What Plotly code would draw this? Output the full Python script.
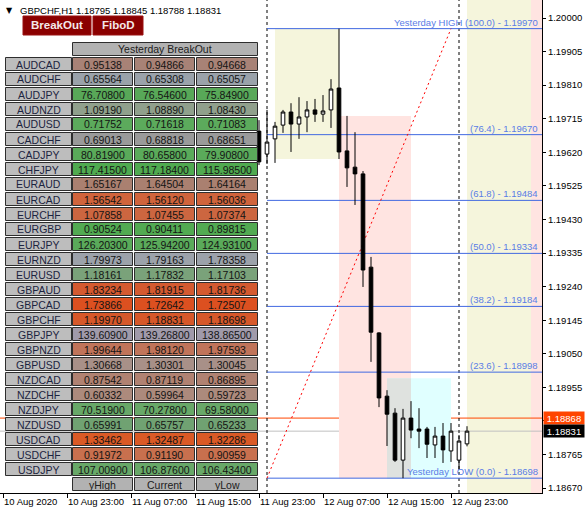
import plotly.graph_objects as go
import pandas as pd

# ---------------- data ----------------
symbol_title = "GBPCHF,H1 1.18795 1.18845 1.18788 1.18831"

candle_start = "2020-08-11 23:00"
open_ = [1.19680, 1.19615, 1.19658, 1.19697, 1.19734, 1.19700, 1.19720, 1.19740, 1.19728,
         1.19740, 1.19802, 1.19624, 1.19578, 1.19559, 1.19295, 1.19109, 1.18930, 1.18882,
         1.18749, 1.18868, 1.18837, 1.18837, 1.18792, 1.18817, 1.18775, 1.18749, 1.18795]
high = [1.19711, 1.19740, 1.19706, 1.19740, 1.19759, 1.19776, 1.19765, 1.19771, 1.19782,
        1.19827, 1.19970, 1.19723, 1.19677, 1.19567, 1.19324, 1.19111, 1.18947, 1.18896,
        1.18894, 1.18916, 1.18896, 1.18843, 1.18843, 1.18854, 1.18854, 1.18820, 1.18845]
low = [1.19584, 1.19587, 1.19590, 1.19675, 1.19621, 1.19658, 1.19677, 1.19706, 1.19706,
       1.19689, 1.19601, 1.19522, 1.19471, 1.19239, 1.19027, 1.18899, 1.18789, 1.18744,
       1.18698, 1.18811, 1.18783, 1.18755, 1.18755, 1.18741, 1.18744, 1.18721, 1.18788]
close = [1.19593, 1.19649, 1.19694, 1.19734, 1.19700, 1.19720, 1.19740, 1.19728, 1.19737,
         1.19799, 1.19621, 1.19576, 1.19559, 1.19287, 1.19111, 1.18925, 1.18879, 1.18749,
         1.18868, 1.18834, 1.18831, 1.18794, 1.18817, 1.18778, 1.18831, 1.18803, 1.18831]

fib_prices = [1.19970, 1.19670, 1.19484, 1.19334, 1.19184, 1.18998, 1.18698]
fib_labels = ["Yesterday HIGH (100.0) - 1.19970", "(76.4) - 1.19670", "(61.8) - 1.19484",
              "(50.0) - 1.19334", "(38.2) - 1.19184", "(23.6) - 1.18998",
              "Yesterday LOW (0.0) - 1.18698"]
fib_start = "2020-08-12 00:00"
yest_high_time = "2020-08-12 23:00"

separator_times = ["2020-08-12 00:00", "2020-08-13 00:00"]
marker_price = 1.18868
current_price = 1.18831

# session boxes: (t0, t1, p0, p1)
box_asia = ("2020-08-12 01:00", "2020-08-12 09:00", 1.19970, 1.19601)
box_europe = ("2020-08-12 09:00", "2020-08-12 18:00", 1.19723, 1.18698)
box_us = ("2020-08-12 15:00", "2020-08-12 23:00", 1.18981, 1.18698)
today_asia = ("2020-08-13 01:00", "2020-08-13 09:00")
today_europe = ("2020-08-13 09:00", "2020-08-13 12:00")

y_tick_vals = [1.20000, 1.19905, 1.19810, 1.19715, 1.19620, 1.19525, 1.19430, 1.19335,
               1.19240, 1.19145, 1.19050, 1.18955, 1.18860, 1.18765, 1.18670]
x_tick_times = ["2020-08-10 15:00", "2020-08-10 23:00", "2020-08-11 07:00", "2020-08-11 15:00",
                "2020-08-11 23:00", "2020-08-12 07:00", "2020-08-12 15:00", "2020-08-12 23:00"]
x_tick_text = ["10 Aug 2020", "10 Aug 23:00", "11 Aug 07:00", "11 Aug 15:00",
               "11 Aug 23:00", "12 Aug 07:00", "12 Aug 15:00", "12 Aug 23:00"]
x_range = ["2020-08-10 14:37:30", "2020-08-13 10:22:30"]
y_range = [1.18656, 1.20051]

pairs = ["AUDCAD", "AUDCHF", "AUDJPY", "AUDNZD", "AUDUSD", "CADCHF", "CADJPY", "CHFJPY",
         "EURAUD", "EURCAD", "EURCHF", "EURGBP", "EURJPY", "EURNZD", "EURUSD", "GBPAUD",
         "GBPCAD", "GBPCHF", "GBPJPY", "GBPNZD", "GBPUSD", "NZDCAD", "NZDCHF", "NZDJPY",
         "NZDUSD", "USDCAD", "USDCHF", "USDJPY"]
y_high = [0.95138, 0.65564, 76.70800, 1.09190, 0.71752, 0.69013, 80.81900, 117.41500,
          1.65167, 1.56542, 1.07858, 0.90524, 126.20300, 1.79973, 1.18161, 1.83234,
          1.73866, 1.19970, 139.60900, 1.99644, 1.30668, 0.87542, 0.60332, 70.51900,
          0.65991, 1.33462, 0.91972, 107.00900]
current = [0.94866, 0.65308, 76.54600, 1.08890, 0.71618, 0.68818, 80.65800, 117.18400,
           1.64504, 1.56120, 1.07455, 0.90411, 125.94200, 1.79163, 1.17832, 1.81915,
           1.72642, 1.18831, 139.26800, 1.98120, 1.30301, 0.87119, 0.59964, 70.27800,
           0.65757, 1.32487, 0.91190, 106.87600]
y_low = [0.94668, 0.65057, 75.84900, 1.08430, 0.71083, 0.68651, 79.90800, 115.98500,
         1.64164, 1.56036, 1.07374, 0.89815, 124.93100, 1.78358, 1.17103, 1.81736,
         1.72507, 1.18698, 138.86500, 1.97593, 1.30045, 0.86895, 0.59723, 69.58000,
         0.65233, 1.32286, 0.90959, 106.43400]
row_colors = ["#A88276", "#9AA2AA", "#58A858", "#90A08C", "#5CAA5C", "#9A9A9A", "#5AAA5A",
              "#50AA50", "#AA8070", "#D0643C", "#CC6640", "#52AA52", "#5AAA5A", "#9CA2AA",
              "#7AA27A", "#D45A30", "#DC5020", "#D6582A", "#A09AAA", "#C0745A", "#A89088",
              "#B08272", "#AC8A7C", "#68A868", "#70A272", "#DA5A26", "#C8704E", "#68A868"]
table_title = "Yesterday BreakOut"
footer_labels = ["yHigh", "Current", "yLow"]
buttons = ["BreakOut", "FiboD"]

# ---------------- figure ----------------
FONT = "Liberation Sans, Arial, sans-serif"
W, H = 542, 493          # plot area in pixels
def PX(x): return x / W
def PY(y): return 1 - y / H

times = pd.date_range(candle_start, periods=len(open_), freq="h")

fig = go.Figure()
fig.add_trace(go.Candlestick(
    x=times, open=open_, high=high, low=low, close=close,
    increasing=dict(fillcolor="white", line=dict(color="black", width=1)),
    decreasing=dict(fillcolor="black", line=dict(color="black", width=1)),
    whiskerwidth=0, showlegend=False, hoverinfo="skip"))

shapes = []
shapes.append(dict(type="rect", xref="x", yref="y", x0=box_asia[0], x1=box_asia[1],
                   y0=box_asia[2], y1=box_asia[3], fillcolor="#F5F5DC", line_width=0, layer="below"))
shapes.append(dict(type="rect", xref="x", yref="y", x0=box_europe[0], x1=box_europe[1],
                   y0=box_europe[2], y1=box_europe[3], fillcolor="#FFE4E1", line_width=0, layer="below"))
shapes.append(dict(type="rect", xref="x", yref="y", x0=box_us[0], x1=box_us[1],
                   y0=box_us[2], y1=box_us[3], fillcolor="#E0FFFF", line_width=0, layer="below"))
shapes.append(dict(type="rect", xref="x", yref="y", x0=box_us[0], x1=box_europe[1],
                   y0=box_us[2], y1=box_us[3], fillcolor="#DFE2DF", line_width=0, layer="below"))
shapes.append(dict(type="rect", xref="x", yref="paper", x0=today_asia[0], x1=today_asia[1],
                   y0=0, y1=1, fillcolor="#F5F5DC", line_width=0, layer="below"))
shapes.append(dict(type="rect", xref="x", yref="paper", x0=today_europe[0], x1=today_europe[1],
                   y0=0, y1=1, fillcolor="#FFE4E1", line_width=0, layer="below"))
shapes.append(dict(type="line", xref="paper", yref="y", x0=0, x1=1, y0=current_price, y1=current_price,
                   line=dict(color="#C0C0C0", width=1), layer="below"))
shapes.append(dict(type="line", xref="paper", yref="y", x0=0, x1=1, y0=marker_price, y1=marker_price,
                   line=dict(color="#FF4500", width=1), layer="below"))
for p in fib_prices:
    shapes.append(dict(type="line", xref="x", yref="y", x0=fib_start, x1=x_range[1], y0=p, y1=p,
                       line=dict(color="#4169E1", width=1), layer="below"))
shapes.append(dict(type="line", xref="x", yref="y", x0=fib_start, y0=fib_prices[-1],
                   x1=yest_high_time, y1=fib_prices[0],
                   line=dict(color="red", width=1, dash="2px,3px"), layer="below"))
for t in separator_times:
    shapes.append(dict(type="line", xref="x", yref="paper", x0=t, x1=t, y0=0, y1=1,
                       line=dict(color="black", width=1, dash="3px,3px"), layer="below"))

annotations = []
for p, lab in zip(fib_prices, fib_labels):
    annotations.append(dict(x=PX(540), xref="paper", y=p, yref="y", text=lab, showarrow=False,
                            xanchor="right", yanchor="bottom", yshift=-1,
                            font=dict(family=FONT, size=9.5, color="#5A7DE6")))

annotations.append(dict(x=1.002, xref="paper", y=marker_price, yref="y", text="1.18868",
                        showarrow=False, xanchor="left", yanchor="middle", bgcolor="#FF4500",
                        width=38, height=10, borderpad=1,
                        font=dict(family=FONT, size=9.5, color="white")))
annotations.append(dict(x=1.002, xref="paper", y=current_price, yref="y", text="1.18831",
                        showarrow=False, xanchor="left", yanchor="middle", bgcolor="black",
                        width=38, height=10, borderpad=1,
                        font=dict(family=FONT, size=9.5, color="white")))

annotations.append(dict(x=PX(9.5), y=PY(10), xref="paper", yref="paper", text="▼", showarrow=False,
                        xanchor="center", yanchor="middle", font=dict(family="DejaVu Sans", size=8, color="black")))
annotations.append(dict(x=PX(18), y=PY(10), xref="paper", yref="paper", text=symbol_title, showarrow=False,
                        xanchor="left", yanchor="middle", font=dict(family=FONT, size=9.5, color="black")))

btn_x = [(23, 91), (93, 143)]
for (x0, x1), lab in zip(btn_x, buttons):
    shapes.append(dict(type="rect", xref="paper", yref="paper", x0=PX(x0), x1=PX(x1),
                       y0=PY(35), y1=PY(16), fillcolor="#8B0000",
                       line=dict(color="#9A1010", width=1), layer="above"))
    annotations.append(dict(x=PX((x0 + x1) / 2), y=PY(25.5), xref="paper", yref="paper",
                            text="<b>" + lab + "</b>", showarrow=False,
                            xanchor="center", yanchor="middle",
                            font=dict(family=FONT, size=11.5, color="#F4E8E8")))

def cell(x0, x1, y0, y1, fill, text, color="#141414"):
    shapes.append(dict(type="rect", xref="paper", yref="paper", x0=PX(x0), x1=PX(x1),
                       y0=PY(y1), y1=PY(y0), fillcolor=fill,
                       line=dict(color="#2E2E2E", width=1), layer="above"))
    annotations.append(dict(x=PX((x0 + x1) / 2), y=PY((y0 + y1) / 2 + 0.5), xref="paper", yref="paper",
                            text=text, showarrow=False, xanchor="center", yanchor="middle",
                            font=dict(family=FONT, size=10.5, color=color)))

cols = [(72.5, 132.5), (134.5, 194.5), (196.5, 257.5)]
cell(72.5, 257.5, 42.5, 55.5, "#B2B2B2", table_title, "#202020")
for i, name in enumerate(pairs):
    top = 57.5 + 15 * i
    cell(5.5, 71.5, top, top + 13, "#BDBDBD", name, "#1C2440")
    for (x0, x1), vals in zip(cols, (y_high, current, y_low)):
        cell(x0, x1, top, top + 13, row_colors[i], f"{vals[i]:.5f}")
for (x0, x1), lab in zip(cols, footer_labels):
    cell(x0, x1, 477.5, 490.5, "#B2B2B2", lab, "#202020")

fig.update_layout(
    width=587, height=513,
    margin=dict(l=0, r=45, t=0, b=20, autoexpand=False),
    paper_bgcolor="white", plot_bgcolor="white",
    shapes=shapes, annotations=annotations,
    showlegend=False,
    boxgap=0.35,
    xaxis=dict(type="date", range=x_range, rangeslider=dict(visible=False),
               showgrid=False, zeroline=False, showline=True, linecolor="black", linewidth=1,
               ticks="outside", ticklen=4, tickcolor="black", tickangle=0,
               tickvals=x_tick_times, ticktext=x_tick_text, ticklabelposition="outside right",
               tickfont=dict(family=FONT, size=9.5, color="black")),
    yaxis=dict(side="right", range=y_range, showgrid=False, zeroline=False,
               showline=True, linecolor="black", linewidth=1,
               ticks="outside", ticklen=3, tickcolor="black",
               tickvals=y_tick_vals, ticktext=[f"{v:.5f}" for v in y_tick_vals],
               tickfont=dict(family=FONT, size=9.5, color="black")),
)

fig.write_html("out.html", config={"displayModeBar": False, "staticPlot": True},
               post_script="document.body.style.margin='0';document.body.style.overflow='hidden';")
